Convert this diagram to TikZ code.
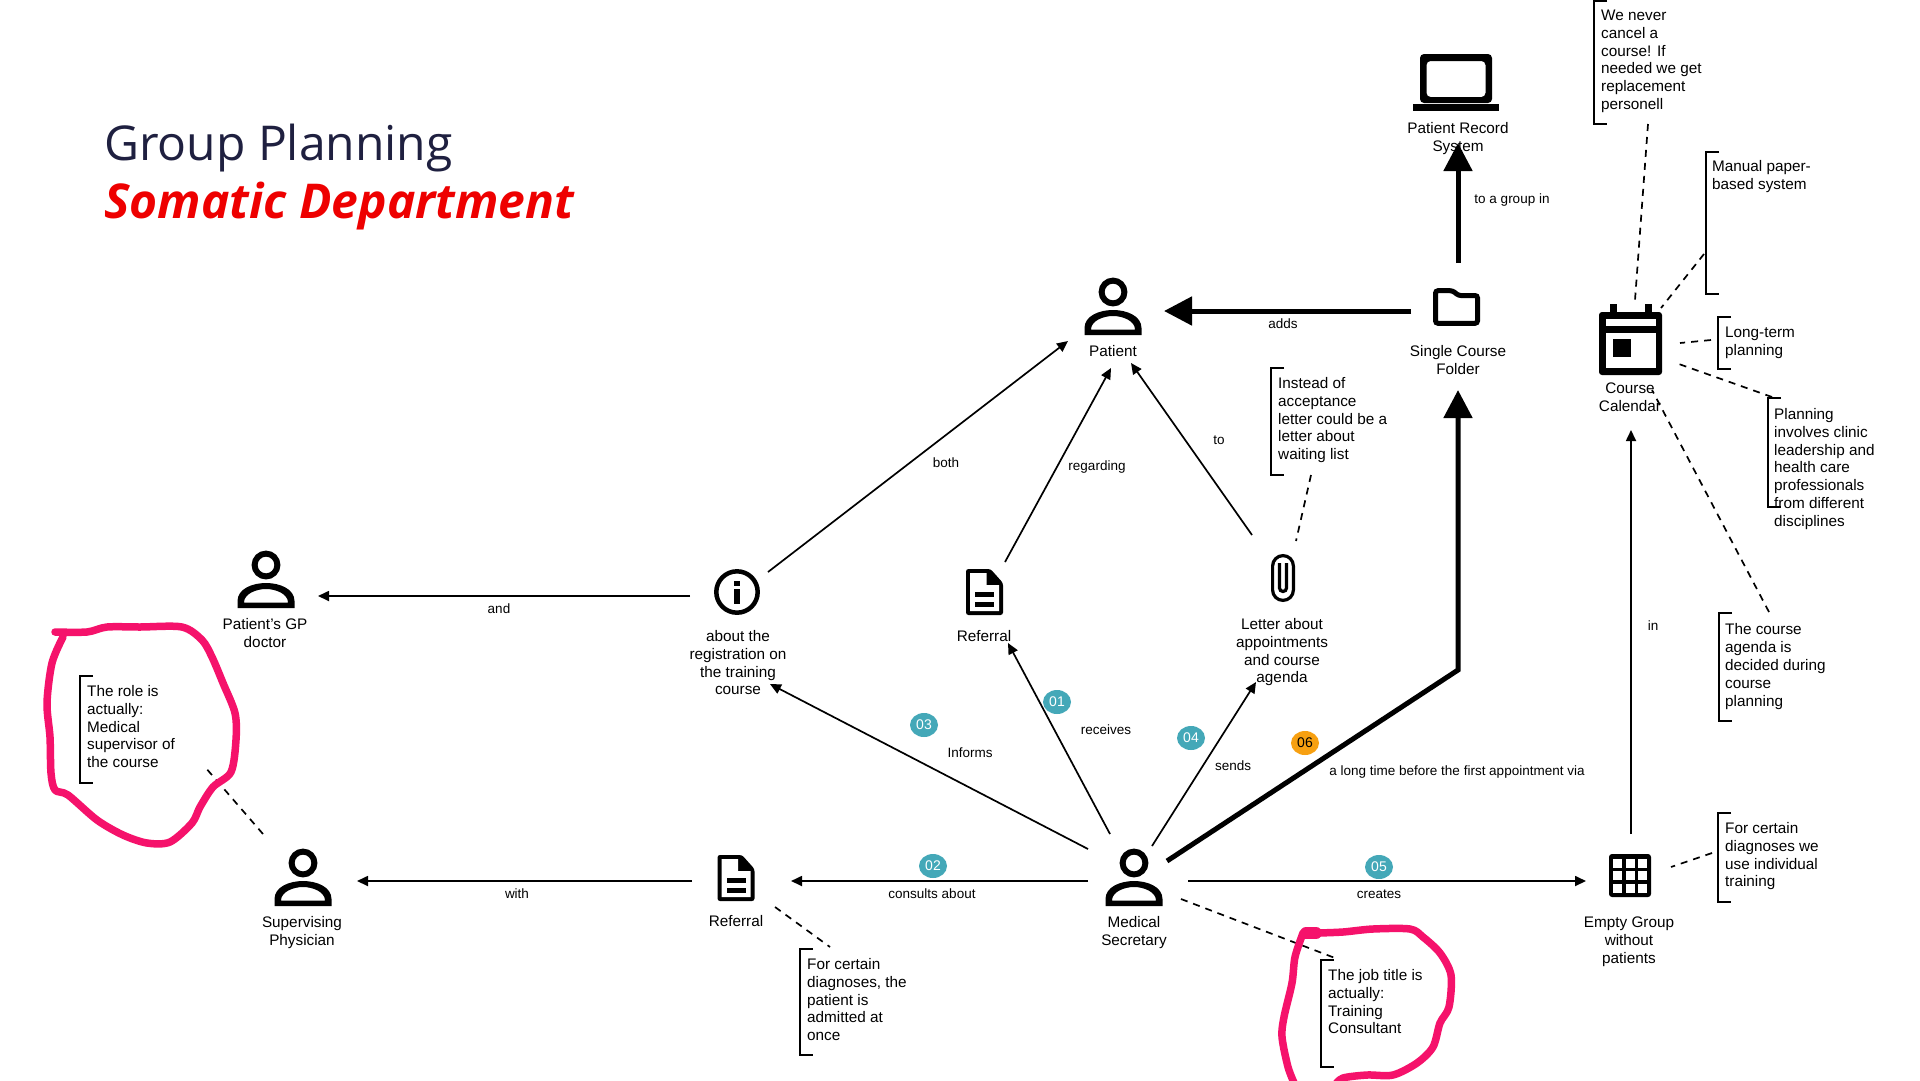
\documentclass[tikz,border=0pt]{standalone}
\usepackage{fontspec}
\setmainfont{Liberation Sans}
\newfontfamily\titlefont{Open Sans}
\usetikzlibrary{arrows.meta,shapes.geometric}
\definecolor{titleink}{HTML}{1F2040}
\definecolor{titlered}{HTML}{EE0000}
\definecolor{badgeteal}{HTML}{44A8B8}
\definecolor{badgeorange}{HTML}{F7A011}
\definecolor{markpink}{HTML}{F5126B}
\newcommand{\lblfont}{\fontsize{15.3}{17.9}\selectfont}
\newcommand{\edgefont}{\fontsize{13.5}{17}\selectfont}
\tikzset{
  iconbox/.style={inner sep=0,minimum size=10pt},
  iconlabel/.style={font=\lblfont,align=center,inner sep=0,anchor=north,yshift=7.5pt},
  notetext/.style={font=\lblfont,align=left,inner sep=0,anchor=north west,yshift=7.5pt},
  edgelabel/.style={font=\edgefont,inner sep=0,anchor=center},
  badge/.style={ellipse,inner sep=0,minimum width=28pt,minimum height=24pt,fill=badgeteal,text=white,font=\fontsize{14}{14}\selectfont},
  thinarrow/.style={line width=1.7pt,-{Triangle[length=11pt,width=10pt]}},
  thickarrow/.style={line width=5pt,miter limit=10,-{Triangle[length=28pt,width=28pt]}},
  dashline/.style={line width=1.7pt,dash pattern=on 7pt off 6pt},
  bracketline/.style={line width=2.2pt},
  pinkmark/.style={draw=markpink,line width=7.5pt,line cap=round,line join=round},
  person/.pic={
    \draw[line width=6pt] (0,0) circle (11.4);
    \fill[even odd rule] (-28.5,43)--(-28.5,36) .. controls (-28.5,24) and (-14,18) .. (0,18) .. controls (14,18) and (28.5,24) .. (28.5,36) -- (28.5,43) -- cycle
      (-22,37.5) .. controls (-22,29) and (-10,24) .. (0,24) .. controls (10,24) and (22,29) .. (22,37.5) -- cycle;
  },
  docicon/.pic={
    \fill[rounded corners=2.5pt,even odd rule] (-18.5,-23)--(6,-23)--(18.5,-9)--(18.5,23)--(-18.5,23)--cycle;
    \fill[white] (-14.5,-19)--(2,-19)--(2,-7)--(14.5,-7)--(14.5,19)--(-14.5,19)--cycle;
    \fill (-9.5,0) rectangle (9.5,5);
    \fill (-9.5,10) rectangle (9.5,15);
  },
  infoicon/.pic={
    \draw[line width=4.5pt] (0,0) circle (20.7);
    \fill (-2.8,-11) rectangle (2.8,-6);
    \fill (-2.8,-3) rectangle (2.8,12);
  },
  clipicon/.pic={
    \draw[line width=3.2pt,rounded corners=10.4pt] (-10.4,-22.4) rectangle (10.4,22.4);
    \draw[line width=3.2pt,rounded corners=3.5pt] (-3.5,-15) -- (-3.5,13.5) -- (3.5,13.5) -- (3.5,-15);
  },
  gridicon/.pic={
    \fill[rounded corners=3pt] (-21,-21.5) rectangle (21,21.5);
    \foreach \cx in {-12.5,0,12.5}\foreach \cy in {-12.5,0,12.5}
      \fill[white] (\cx-4.5,\cy-4.5) rectangle (\cx+4.5,\cy+4.5);
  },
  calicon/.pic={
    \fill[rounded corners=3pt] (-31.5,-31.5) rectangle (31.5,31.5);
    \fill (-20.5,-39.5) rectangle (-13.5,-30);
    \fill (14.5,-39.5) rectangle (21.5,-30);
    \fill[white] (-25,-24.5) rectangle (25,-17.5);
    \fill[white] (-25,-10.5) rectangle (25,24.5);
    \fill (-17.5,-4.5) rectangle (0.5,13.5);
  },
  laptopicon/.pic={
    \fill[rounded corners=4pt,even odd rule] (-36,-28) rectangle (36,21) (-29.5,-21) rectangle (29.5,15);
    \fill (-43,22) rectangle (43,29);
  },
  foldericon/.pic={
    \draw[line width=5pt,rounded corners=2.5pt] (-21,-16.3)--(-4,-16.3)--(2,-11.5)--(21,-11.5)--(21,16.3)--(-21,16.3)--cycle;
  }
}
\newcommand{\notebracket}[3]{\draw[bracketline] (#1+13,#2) -- (#1,#2) -- (#1,#3) -- (#1+13,#3);}
\begin{document}
\begin{tikzpicture}[x=1pt,y=-1pt]
\useasboundingbox (0,0) rectangle (1920,1080);
\clip (0,0) rectangle (1920,1080);
\fill[white] (0,0) rectangle (1920,1080);

% title
\node[anchor=base west,inner sep=0,text=titleink,font=\titlefont\fontsize{48}{52}\selectfont] (title) at (104,160) {Group Planning};
\node[anchor=base west,inner sep=0,text=titlered,font=\titlefont\bfseries\itshape\fontsize{48}{52}\selectfont] (subtitle) at (104,218) {Somatic Department};

% icons
\node[iconbox] (patient) at (1113,292) {}; \pic at (patient) {person};
\node[iconbox] (gp) at (266,565) {}; \pic at (gp) {person};
\node[iconbox] (sup) at (303,863) {}; \pic at (sup) {person};
\node[iconbox] (sec) at (1134,863) {}; \pic at (sec) {person};
\node[iconbox] (info) at (737,592) {}; \pic at (info) {infoicon};
\node[iconbox] (refa) at (984.5,592) {}; \pic at (refa) {docicon};
\node[iconbox] (refb) at (736,878) {}; \pic at (refb) {docicon};
\node[iconbox] (letter) at (1283,578) {}; \pic at (letter) {clipicon};
\node[iconbox] (group) at (1630,875.5) {}; \pic at (group) {gridicon};
\node[iconbox] (cal) at (1630.5,343.5) {}; \pic at (cal) {calicon};
\node[iconbox] (laptop) at (1456,82) {}; \pic at (laptop) {laptopicon};
\node[iconbox] (folder) at (1456.5,307) {}; \pic at (folder) {foldericon};

% icon labels
\node[iconlabel] (patientL) at (1113,351) {\strut Patient};
\node[iconlabel] (gpL) at (265,624) {\strut Patient's GP\\doctor};
\node[iconlabel] (supL) at (302,922) {\strut Supervising\\Physician};
\node[iconlabel] (secL) at (1134,922) {\strut Medical\\Secretary};
\node[iconlabel] (infoL) at (738,636) {\strut about the\\registration on\\the training\\course};
\node[iconlabel] (refaL) at (984,636) {\strut Referral};
\node[iconlabel] (refbL) at (736,921) {\strut Referral};
\node[iconlabel] (letterL) at (1282,624) {\strut Letter about\\appointments\\and course\\agenda};
\node[iconlabel] (groupL) at (1629,922) {\strut Empty Group\\without\\patients};
\node[iconlabel] (calL) at (1630,388) {\strut Course\\Calendar};
\node[iconlabel] (laptopL) at (1458,128) {\strut Patient Record\\System};
\node[iconlabel] (folderL) at (1458,351) {\strut Single Course\\Folder};

% note texts
\node[notetext] (noteTop) at (1601,15) {\strut We never\\cancel a\\course! If\\needed we get\\replacement\\personell};
\node[notetext] (noteManual) at (1712,166) {\strut Manual paper-\\based system};
\node[notetext] (noteLong) at (1725,332) {\strut Long-term\\planning};
\node[notetext] (notePlan) at (1774,414) {\strut Planning\\involves clinic\\leadership and\\health care\\professionals\\from different\\disciplines};
\node[notetext] (noteAgenda) at (1725,629.5) {\strut The course\\agenda is\\decided during\\course\\planning};
\node[notetext] (noteIndiv) at (1725,828) {\strut For certain\\diagnoses we\\use individual\\training};
\node[notetext] (noteLetter) at (1278,383) {\strut Instead of\\acceptance\\letter could be a\\letter about\\waiting list};
\node[notetext] (noteRef) at (807,964) {\strut For certain\\diagnoses, the\\patient is\\admitted at\\once};
\node[notetext] (noteJob) at (1328,975) {\strut The job title is\\actually:\\Training\\Consultant};
\node[notetext] (noteRole) at (87,691) {\strut The role is\\actually:\\Medical\\supervisor of\\the course};

% brackets
\notebracket{1594}{1}{124}
\notebracket{1706}{152}{294}
\notebracket{1718}{317}{369}
\notebracket{1768}{398}{507}
\notebracket{1719}{613}{721}
\notebracket{1718}{813}{902}
\notebracket{1271}{368}{475}
\notebracket{800}{949}{1055}
\notebracket{1321}{960}{1067}
\notebracket{80}{676}{783}

% connector ports
\coordinate (infoW) at (690,596); \coordinate (gpE) at (318,596);
\coordinate (refbW) at (692,881); \coordinate (supE) at (357,881);
\coordinate (secW) at (1088,881); \coordinate (refbE) at (791,881);
\coordinate (secE) at (1188,881); \coordinate (groupW) at (1586,881);
\coordinate (secInfo) at (1088,849); \coordinate (infoS) at (770,684);
\coordinate (secRef) at (1110,834); \coordinate (refaS) at (1008,643);
\coordinate (secLet) at (1152,846); \coordinate (letterS) at (1256,682);
\coordinate (secFold) at (1167,861); \coordinate (bend) at (1458,670); \coordinate (folderS) at (1458,390);
\coordinate (folderW) at (1411,311); \coordinate (patientE) at (1164,311);
\coordinate (folderN) at (1458,263); \coordinate (laptopS) at (1458,143);
\coordinate (groupN) at (1631,834); \coordinate (calS) at (1631,430);
\coordinate (infoNE) at (768,572); \coordinate (patientSW) at (1068,341);
\coordinate (refaN) at (1005,562); \coordinate (patientS) at (1111,368);
\coordinate (letterN) at (1252,535); \coordinate (patientSE) at (1131,363);

% connectors
\draw[thinarrow] (infoW) -- (gpE);
\draw[thinarrow] (refbW) -- (supE);
\draw[thinarrow] (secW) -- (refbE);
\draw[thinarrow] (secE) -- (groupW);
\draw[thinarrow] (secInfo) -- (infoS);
\draw[thinarrow] (secRef) -- (refaS);
\draw[thinarrow] (secLet) -- (letterS);
\draw[thinarrow] (groupN) -- (calS);
\draw[thinarrow] (infoNE) -- (patientSW);
\draw[thinarrow] (refaN) -- (patientS);
\draw[thinarrow] (letterN) -- (patientSE);
\draw[thickarrow] (secFold) -- (bend) -- (folderS);
\draw[thickarrow] (folderW) -- (patientE);
\draw[thickarrow] (folderN) -- (laptopS);

% dashed note connectors
\coordinate (dA1) at (1311,475); \coordinate (dA2) at (1296,541);
\coordinate (dB1) at (1648,124); \coordinate (dB2) at (1635,300);
\coordinate (dC1) at (1704,254); \coordinate (dC2) at (1661,308);
\coordinate (dD1) at (1711,340); \coordinate (dD2) at (1680,343);
\coordinate (dE1) at (1772,397); \coordinate (dE2) at (1676,363);
\coordinate (dF1) at (1769,612); \coordinate (dF2) at (1652,390);
\coordinate (dG1) at (1712,853); \coordinate (dG2) at (1671,867);
\coordinate (dH1) at (1181,899); \coordinate (dH2) at (1335,958);
\coordinate (dI1) at (775,907); \coordinate (dI2) at (830,947);
\coordinate (dJ1) at (263,834); \coordinate (dJ2) at (205,767);
\draw[dashline] (dA1) -- (dA2);
\draw[dashline] (dB1) -- (dB2);
\draw[dashline] (dC1) -- (dC2);
\draw[dashline] (dD1) -- (dD2);
\draw[dashline] (dE1) -- (dE2);
\draw[dashline] (dF1) -- (dF2);
\draw[dashline] (dG1) -- (dG2);
\draw[dashline] (dH1) -- (dH2);
\draw[dashline] (dI1) -- (dI2);
\draw[dashline] (dJ1) -- (dJ2);

% edge labels
\node[edgelabel] (lAdds) at (1283,324) {adds};
\node[edgelabel] (lGroupIn) at (1512,200) {to a group in};
\node[edgelabel] (lIn) at (1653,626) {in};
\node[edgelabel] (lAnd) at (499,609) {and};
\node[edgelabel] (lWith) at (517,894) {with};
\node[edgelabel] (lConsults) at (932,894) {consults about};
\node[edgelabel] (lCreates) at (1379,894) {creates};
\node[edgelabel] (lInforms) at (970,753) {Informs};
\node[edgelabel] (lReceives) at (1106,730) {receives};
\node[edgelabel] (lSends) at (1233,766) {sends};
\node[edgelabel] (lLong) at (1457,772) {a long time before the first appointment via};
\node[edgelabel] (lBoth) at (946,463) {both};
\node[edgelabel] (lRegarding) at (1097,467) {regarding};
\node[edgelabel] (lTo) at (1219,440) {to};

% badges
\node[badge] (b1) at (1057,702) {01};
\node[badge] (b2) at (933,866) {02};
\node[badge] (b3) at (924,725) {03};
\node[badge] (b4) at (1191,738) {04};
\node[badge] (b5) at (1379,867) {05};
\node[badge,fill=badgeorange,text=black] (b6) at (1305,743) {06};

% hand-drawn pink marks
\draw[pinkmark] plot[smooth,tension=0.5] coordinates {(55,632) (87,632) (107,627) (140,627) (182,627) (202,640) (212,657) (223,683) (235,713) (236,740) (231,772) (213,787) (200,807) (192,823) (170,842) (147,843) (123,835) (97,820) (68,795) (55,790) (51,773) (50,737) (47,703) (52,663) (63,637)};
\draw[pinkmark] plot[smooth,tension=0.5] coordinates {(1318,933) (1343,932) (1373,929) (1410,929) (1423,937) (1440,953) (1451,975) (1449,1007) (1440,1023) (1433,1047) (1417,1063) (1393,1075) (1367,1075) (1343,1078) (1335,1085)};
\draw[pinkmark] plot[smooth,tension=0.5] coordinates {(1303,933) (1295,957) (1292,983) (1284,1017) (1282,1037) (1288,1067) (1295,1085)};
\draw[pinkmark,line width=12pt] (1306,933) -- (1316,933);
\end{tikzpicture}
\end{document}
